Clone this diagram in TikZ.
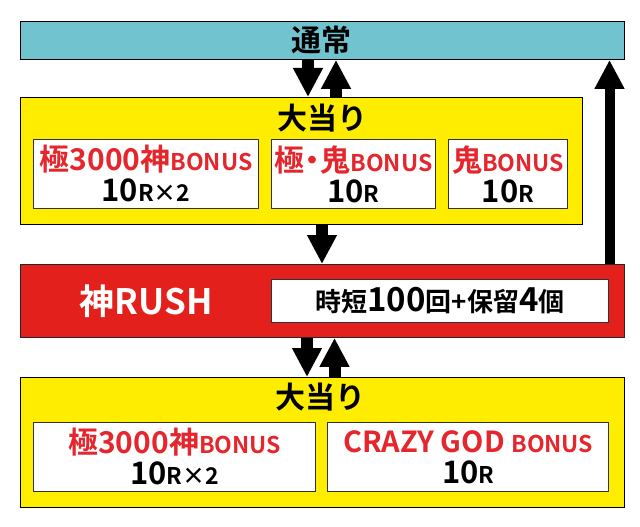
\documentclass[tikz,border=0pt]{standalone}
\usepackage{fontspec}
\setmainfont{Noto Sans CJK JP}[BoldFont=* Bold]
\usetikzlibrary{arrows.meta}
\definecolor{tealbg}{HTML}{72C3D0}
\definecolor{yelbg}{HTML}{FFED00}
\definecolor{redbg}{HTML}{E3201B}
\definecolor{redtx}{HTML}{E5272D}
\newcommand\fsz[1]{\fontsize{#1}{31}\selectfont}
\begin{document}
\begin{tikzpicture}[x=1pt,y=-1pt,
  box/.style={draw=black, line width=0.9pt, inner sep=0pt, anchor=north west},
  wbox/.style={box, fill=white, draw=black!80, align=center, font=\bfseries\fsz{30}},
  ttl/.style={font=\bfseries\fsz{30}, inner sep=0pt},
  arr/.style={line width=12pt, -{Triangle[width=28pt,length=29pt]}},
]
\useasboundingbox (0,0) rectangle (640,527);
% boxes
\node[box, fill=tealbg, minimum width=604pt, minimum height=38pt, font=\bfseries\fsz{30}] (normal) at (19.5,21) {通常};
\node[box, fill=yelbg, minimum width=562.5pt, minimum height=126.5pt] (hit1) at (19.5,97) {};
\node[ttl] (hit1t) at (322,118) {大当り};
\node[wbox, minimum width=224.7pt, minimum height=69pt] (b1) at (33.3,139)
  {{\color{redtx}\fsz{30}極3000神\fsz{23}BONUS}\\{\fsz{31}10\fsz{23}R×2}};
\node[wbox, minimum width=164pt, minimum height=69pt] (b2) at (271,139)
  {{\color{redtx}\fsz{30}極\kern-7pt・\kern-7pt鬼\fsz{23}BONUS}\\{\fsz{31}10\fsz{23}R}};
\node[wbox, minimum width=119pt, minimum height=69pt] (b3) at (448,139)
  {{\color{redtx}\fsz{30}鬼\fsz{23}BONUS}\\{\fsz{31}10\fsz{23}R}};
\node[box, fill=redbg, draw=black!85, minimum width=604pt, minimum height=73pt] (rush) at (19.5,264) {};
\node[font=\bfseries\fsz{35}, text=white, inner sep=0pt] (rusht) at (146,301) {神RUSH};
\node[wbox, minimum width=337pt, minimum height=43pt] (rushi) at (271,279)
  {\fsz{26}時短\fsz{33}100\fsz{26}回+保留\fsz{33}4\fsz{26}個};
\node[box, fill=yelbg, minimum width=604pt, minimum height=130pt] (hit2) at (19.5,377) {};
\node[ttl] (hit2t) at (320,397) {大当り};
\node[wbox, minimum width=281.7pt, minimum height=69.3pt] (b4) at (33.3,421.7)
  {{\color{redtx}\fsz{30}極3000神\fsz{23}BONUS}\\{\fsz{31}10\fsz{23}R×2}};
\node[wbox, minimum width=281pt, minimum height=69.3pt] (b5) at (327.3,421.7)
  {{\color{redtx}\fsz{29}CRAZY GOD \fsz{23}BONUS}\\{\fsz{31}10\fsz{23}R}};
% arrow columns
\coordinate (c1) at (308,0);
\coordinate (c2) at (336,0);
\coordinate (c3) at (322,0);
\coordinate (c4) at (307,0);
\coordinate (c5) at (334.5,0);
\coordinate (c6) at (609.5,0);
\draw[arr] (c1 |- normal.south) -- (c1 |- hit1.north);
\draw[arr] (c2 |- hit1.north) -- (c2 |- normal.south);
\draw[arr] (c3 |- hit1.south) -- (c3 |- rush.north);
\draw[arr] (c4 |- rush.south) -- (c4 |- hit2.north);
\draw[arr] (c5 |- hit2.north) -- (c5 |- rush.south);
\draw[arr, line width=10pt] (c6 |- rush.north) -- (c6 |- normal.south);
\end{tikzpicture}
\end{document}
